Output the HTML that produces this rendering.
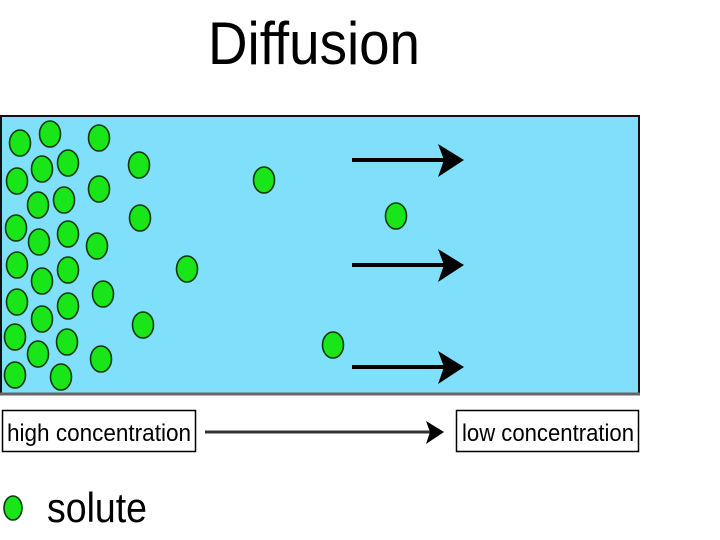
<!DOCTYPE html>
<html><head><meta charset="utf-8"><style>html,body{margin:0;padding:0;background:#fff}svg{display:block}</style></head>
<body>
<svg width="720" height="540" viewBox="0 0 720 540" xmlns="http://www.w3.org/2000/svg">
<text x="208" y="64" font-family="Liberation Sans Narrow, Liberation Sans, sans-serif" font-size="60" textLength="212" lengthAdjust="spacingAndGlyphs" fill="#000">Diffusion</text>
<rect x="1" y="116" width="638" height="278" fill="#80e0fb" stroke="#111" stroke-width="2"/>
<line x1="0" y1="394" x2="640" y2="394" stroke="#666" stroke-width="3"/>
<g fill="#19e619" stroke="#0a3a0a" stroke-width="1.6">
<ellipse cx="20" cy="143" rx="10.5" ry="13"/><ellipse cx="50" cy="134" rx="10.5" ry="13"/><ellipse cx="99" cy="138" rx="10.5" ry="13"/><ellipse cx="139" cy="165" rx="10.5" ry="13"/>
<ellipse cx="17" cy="181" rx="10.5" ry="13"/><ellipse cx="42" cy="169" rx="10.5" ry="13"/><ellipse cx="68" cy="163" rx="10.5" ry="13"/><ellipse cx="99" cy="189" rx="10.5" ry="13"/>
<ellipse cx="140" cy="218" rx="10.5" ry="13"/><ellipse cx="38" cy="205" rx="10.5" ry="13"/><ellipse cx="64" cy="200" rx="10.5" ry="13"/><ellipse cx="16" cy="228" rx="10.5" ry="13"/>
<ellipse cx="39" cy="242" rx="10.5" ry="13"/><ellipse cx="68" cy="234" rx="10.5" ry="13"/><ellipse cx="97" cy="246" rx="10.5" ry="13"/><ellipse cx="187" cy="269" rx="10.5" ry="13"/>
<ellipse cx="17" cy="265" rx="10.5" ry="13"/><ellipse cx="42" cy="281" rx="10.5" ry="13"/><ellipse cx="68" cy="270" rx="10.5" ry="13"/><ellipse cx="103" cy="294" rx="10.5" ry="13"/>
<ellipse cx="143" cy="325" rx="10.5" ry="13"/><ellipse cx="17" cy="302" rx="10.5" ry="13"/><ellipse cx="42" cy="319" rx="10.5" ry="13"/><ellipse cx="68" cy="306" rx="10.5" ry="13"/>
<ellipse cx="15" cy="337" rx="10.5" ry="13"/><ellipse cx="38" cy="354" rx="10.5" ry="13"/><ellipse cx="67" cy="342" rx="10.5" ry="13"/><ellipse cx="101" cy="359" rx="10.5" ry="13"/>
<ellipse cx="15" cy="375" rx="10.5" ry="13"/><ellipse cx="61" cy="377" rx="10.5" ry="13"/>
<ellipse cx="264" cy="180" rx="10.5" ry="13"/><ellipse cx="396" cy="216" rx="10.5" ry="13"/><ellipse cx="333" cy="345" rx="10.5" ry="13"/>
<ellipse cx="13" cy="508" rx="9" ry="12"/>
</g>
<g fill="#000" stroke="#000" stroke-width="4">
<line x1="352" y1="160" x2="448" y2="160"/><line x1="352" y1="265" x2="448" y2="265"/><line x1="352" y1="367" x2="448" y2="367"/>
</g>
<g fill="#000">
<polygon points="438,144 464,160 438,177 444,160"/>
<polygon points="438,249 464,265 438,282 444,265"/>
<polygon points="438,351 464,367 438,384 444,367"/>
</g>
<rect x="2.5" y="410.5" width="193" height="41" fill="#fff" stroke="#000" stroke-width="1.5"/>
<rect x="456.5" y="410.5" width="182" height="41" fill="#fff" stroke="#000" stroke-width="1.5"/>
<text x="7" y="441" font-family="Liberation Sans Narrow, Liberation Sans, sans-serif" font-size="24" textLength="184" lengthAdjust="spacingAndGlyphs">high concentration</text>
<text x="462" y="441" font-family="Liberation Sans Narrow, Liberation Sans, sans-serif" font-size="24" textLength="172" lengthAdjust="spacingAndGlyphs">low concentration</text>
<line x1="205" y1="432" x2="430" y2="432" stroke="#333" stroke-width="3"/>
<polygon points="426,421 444,432 426,444 430,432" fill="#000"/>
<text x="47" y="522" font-family="Liberation Sans Narrow, Liberation Sans, sans-serif" font-size="42" textLength="100" lengthAdjust="spacingAndGlyphs">solute</text>
</svg>
</body></html>
